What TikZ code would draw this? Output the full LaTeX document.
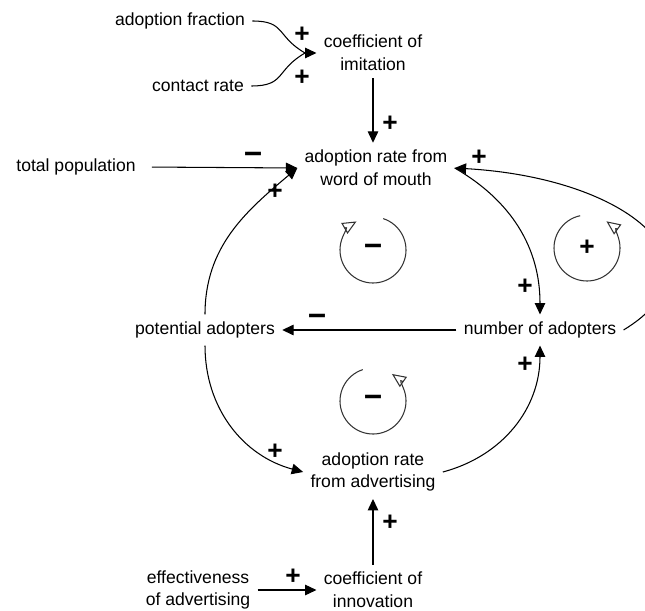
\documentclass[tikz,border=0pt]{standalone}
\usepackage{fontspec}
\setmainfont{Liberation Sans}
\usetikzlibrary{arrows.meta}

\begin{document}
\begin{tikzpicture}[x=0.02cm,y=0.02cm,
    varbox/.style={inner sep=4pt, align=center, font=\fontsize{10}{13}\selectfont},
    sgn/.style={inner sep=0pt, font=\fontsize{15}{15}\selectfont\bfseries},
    sgnm/.style={inner sep=0pt, font=\fontsize{18}{18}\selectfont\bfseries},
    lnk/.style={line width=0.6pt, -{Triangle[length=6.5pt,width=6pt]}},
    loopar/.style={line width=0.6pt, draw=black!80, -{Triangle[open,length=8pt,width=7pt]}}]
  \useasboundingbox (0,0) rectangle (645,-611);
  % variables
  \node[varbox] (frac) at (180,-21) {adoption fraction};
  \node[varbox] (contact) at (198,-86) {contact rate};
  \node[varbox] (imit) at (373,-53) {coefficient of\\imitation};
  \node[varbox] (totpop) at (76,-167) {total population};
  \node[varbox] (wom) at (376,-168) {adoption rate from\\word of mouth};
  \node[varbox] (potad) at (205,-330) {potential adopters};
  \node[varbox] (numad) at (540,-330) {number of adopters};
  \node[varbox] (advrate) at (373,-472) {adoption rate\\from advertising};
  \node[varbox] (innov) at (373,-590) {coefficient of\\innovation};
  \node[varbox] (effect) at (198,-590) {effectiveness\\of advertising};
  % links
  \coordinate (jn) at ([xshift=-6.5pt]imit.west);
  \draw[line width=0.6pt] (frac.east) to[out=0,in=150,looseness=1.4] (jn);
  \draw[line width=0.6pt] (contact.east) to[out=0,in=210,looseness=1.4] (jn);
  \draw[lnk] (jn) -- (imit.west);
  \draw[lnk] (imit.south) -- (imit.south |- wom.north);
  \draw[lnk, shorten <=5pt] (totpop.east) -- (wom.west);
  \draw[lnk] (potad.north) to[out=90,in=220] (wom.west);
  \draw[lnk] (potad.south) to[out=-90,in=165] (advrate.west);
  \draw[lnk] (wom.east) to[out=-30,in=90] (numad.north);
  \draw[lnk] (numad.east) .. controls (730,-265) and (630,-178) .. (wom.east);
  \draw[lnk] (numad.west) -- (potad.east);
  \draw[lnk] (advrate.east) to[out=15,in=-90] (numad.south);
  \draw[lnk] (innov.north) -- (advrate.south);
  \draw[lnk] (effect.east) -- (innov.west);
  % polarities
  \node[sgn] (s1) at (302,-35) {+};
  \node[sgn] (s2) at (302,-78) {+};
  \node[sgn] (s3) at (390,-124) {+};
  \node[sgnm] (s4) at (253,-158) {−};
  \node[sgn] (s5) at (275,-192) {+};
  \node[sgn] (s6) at (479,-158) {+};
  \node[sgn] (s7) at (525,-287) {+};
  \node[sgnm] (s8) at (317,-320) {−};
  \node[sgn] (s9) at (525,-365) {+};
  \node[sgn] (s10) at (275,-452) {+};
  \node[sgn] (s11) at (390,-523) {+};
  \node[sgn] (s12) at (293,-577) {+};
  % loops
  \node[sgnm] (l1) at (373,-250) {−};
  \node[sgn] (l2) at (587,-248) {+};
  \node[sgnm] (l3) at (373,-401) {−};
  \draw[loopar] (l1) ++(72:33) arc[start angle=72, end angle=-240, radius=33];
  \draw[loopar] (l2) ++(102:33) arc[start angle=102, end angle=414, radius=33];
  \draw[loopar] (l3) ++(108:33) arc[start angle=108, end angle=415, radius=33];
\end{tikzpicture}
\end{document}
